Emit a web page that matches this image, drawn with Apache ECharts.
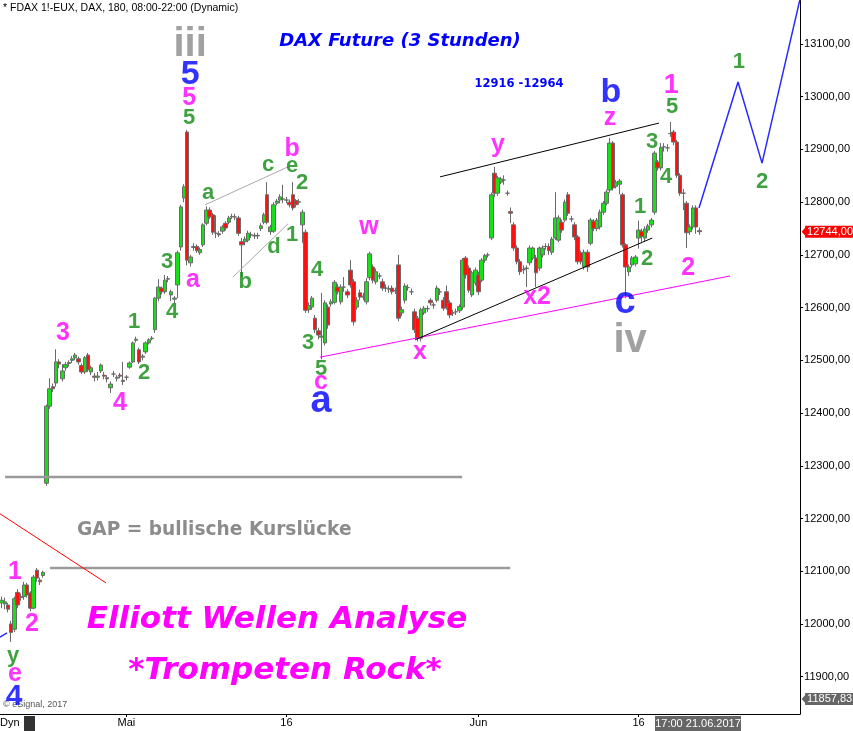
<!DOCTYPE html>
<html><head><meta charset="utf-8">
<script src="https://cdn.jsdelivr.net/npm/echarts/dist/echarts.min.js"></script>
<style>html,body{margin:0;padding:0;background:#fff}#c{width:853px;height:731px}</style>
</head><body><div id="c"></div>
<script>
// OHLC bars (3h FDAX): [open, close, low, high]
const bars = [
[12040,12045,12030,12052],[12038,12042,12028,12050],[12036,12028,12022,12040],[12000,11984,11966,12006],
[11990,12048,11985,12052],[12060,12036,12030,12066],[12050,12052,12044,12058],[12052,12074,12046,12080],
[12074,12055,12050,12078],[12059,12030,12024,12062],[12030,12089,12028,12093],[12102,12087,12080,12106],
[12083,12080,12074,12088],[12092,12098,12088,12101],
[12267,12413,12262,12416],[12413,12446,12408,12466],[12450,12446,12440,12456],[12457,12497,12450,12521],
[12497,12493,12485,12502],[12465,12480,12460,12493],[12486,12492,12480,12497],[12494,12496,12488,12500],
[12500,12503,12495,12508],[12505,12510,12500,12514],[12503,12497,12492,12507],[12490,12478,12474,12494],
[12478,12505,12474,12508],[12510,12482,12478,12514],[12478,12486,12472,12490],[12470,12468,12460,12476],
[12468,12470,12462,12478],[12480,12491,12476,12494],[12472,12470,12464,12478],[12467,12465,12458,12472],
[12448,12455,12438,12460],[12474,12474,12468,12480],[12466,12468,12460,12472],[12472,12470,12466,12476],
[12462,12460,12453,12497],
[12468,12468,12462,12472],[12487,12495,12484,12498],[12497,12533,12495,12536],[12538,12540,12534,12545],
[12520,12497,12493,12524],[12506,12508,12500,12512],[12516,12533,12512,12536],[12533,12539,12530,12542],
[12541,12542,12538,12546],[12558,12618,12552,12620],[12618,12639,12612,12654],[12637,12630,12625,12640],
[12630,12652,12626,12662],[12654,12655,12648,12660],[12624,12630,12612,12634],[12616,12618,12608,12622],
[12643,12704,12618,12708],[12715,12791,12708,12795],[12808,12829,12800,12834],[12933,12690,12680,12937],
[12685,12696,12678,12700],[12714,12716,12708,12722],[12716,12708,12704,12720],[12704,12710,12700,12714],
[12719,12757,12715,12760],[12760,12785,12756,12792],[12785,12772,12768,12790],[12776,12743,12738,12780],
[12741,12741,12732,12775],[12740,12738,12734,12745],[12745,12753,12740,12757],[12760,12751,12746,12764],
[12762,12770,12758,12774],[12772,12773,12768,12778],[12772,12772,12766,12778],[12770,12741,12736,12774],
[12725,12719,12658,12732],[12725,12730,12718,12735],[12728,12741,12724,12746],[12738,12738,12732,12744],
[12736,12737,12730,12742],[12737,12736,12730,12742],[12750,12755,12745,12760],[12762,12776,12758,12780],
[12814,12762,12758,12838],[12744,12753,12738,12757],[12745,12795,12742,12800],[12798,12802,12794,12806],
[12804,12810,12798,12815],[12806,12806,12798,12833],[12804,12804,12798,12810],[12800,12795,12790,12805],
[12814,12789,12784,12838],[12803,12795,12790,12806],[12800,12801,12795,12806],[12757,12781,12723,12786],
[12743,12595,12590,12748],[12596,12604,12590,12610],[12601,12618,12596,12622],[12580,12558,12552,12586],
[12556,12548,12540,12562],[12544,12546,12502,12628],[12533,12609,12528,12614],[12601,12567,12560,12606],
[12607,12611,12602,12616],[12610,12648,12606,12652],[12639,12630,12625,12645],[12611,12639,12606,12644],
[12639,12639,12630,12658],[12630,12624,12618,12635],[12671,12643,12638,12690],[12649,12573,12566,12654],
[12601,12614,12596,12620],[12628,12620,12614,12634],[12620,12622,12614,12628],[12611,12649,12606,12656],
[12657,12702,12652,12706],[12677,12652,12646,12682],[12649,12668,12644,12674],[12660,12660,12654,12666],
[12649,12637,12632,12655],[12637,12637,12630,12644],[12635,12636,12628,12642],[12637,12630,12625,12642],
[12632,12632,12626,12638],[12681,12580,12574,12700],[12590,12596,12584,12602],[12614,12641,12608,12646],
[12638,12638,12632,12644],[12630,12630,12624,12636],[12592,12558,12552,12598],[12580,12542,12536,12584],
[12542,12596,12536,12600],[12590,12599,12586,12603],[12598,12598,12592,12604],[12614,12609,12604,12618],
[12605,12605,12598,12610],[12614,12637,12610,12642],[12630,12630,12624,12636],[12614,12599,12594,12620],
[12630,12601,12596,12642],[12609,12586,12580,12614],[12590,12590,12584,12596],[12592,12592,12586,12598],
[12594,12602,12590,12606],[12601,12690,12596,12694],[12694,12662,12655,12698],[12675,12633,12628,12680],
[12624,12666,12620,12670],[12647,12671,12642,12676],[12662,12630,12624,12668],[12652,12690,12648,12694],
[12690,12699,12685,12702],[12700,12700,12695,12704],[12732,12814,12728,12818],[12855,12817,12810,12867],
[12817,12846,12812,12850],[12838,12844,12834,12848],[12842,12842,12833,12851],[12817,12817,12812,12822],
[12782,12779,12760,12790],[12757,12713,12708,12762],[12713,12687,12682,12718],[12687,12668,12662,12692],
[12672,12672,12664,12680],[12674,12675,12639,12680],[12685,12713,12680,12718],[12694,12713,12690,12716],
[12694,12666,12639,12700],[12675,12713,12670,12716],[12700,12713,12695,12718],[12716,12716,12710,12722],
[12716,12708,12700,12722],[12705,12730,12700,12734],[12732,12770,12728,12819],[12728,12770,12724,12775],
[12762,12747,12742,12767],[12766,12800,12762,12805],[12814,12779,12774,12819],[12768,12768,12762,12774],
[12757,12734,12728,12762],[12734,12687,12682,12738],[12704,12687,12682,12708],[12677,12705,12672,12710],
[12705,12677,12668,12710],[12722,12766,12718,12770],[12764,12750,12745,12768],[12750,12766,12745,12770],
[12753,12781,12748,12786],[12781,12798,12776,12802],[12798,12819,12794,12824],[12823,12912,12818,12922],
[12912,12827,12822,12916],[12830,12838,12826,12842],[12834,12840,12815,12844],[12814,12719,12714,12818],
[12719,12677,12618,12722],[12668,12677,12660,12682],[12681,12694,12676,12698],[12683,12696,12678,12700],
[12732,12747,12712,12765],[12745,12735,12725,12750],[12732,12749,12725,12754],[12747,12755,12742,12759],
[12757,12766,12752,12770],[12781,12893,12776,12897],[12876,12865,12860,12880],[12865,12904,12860,12912],
[12905,12905,12896,12912],[12903,12903,12896,12910],[12930,12930,12924,12952],[12933,12914,12908,12937],
[12914,12851,12846,12918],[12851,12817,12812,12855],[12817,12817,12785,12825],[12798,12742,12713,12802],
[12744,12753,12738,12758],[12753,12789,12748,12794],[12789,12753,12740,12794],[12746,12744,12738,12752]
];
const slotCount = 250;               // bar slots on the time axis (incl. empty future)
const tickBars = [39, 89, 149, 199]; // bar index of each date tick
const tickNames = ['Mai', '16', 'Jun', '16'];
const lastPrice = 12744;
const lowMarker = 11857.83;

// drawn lines: [barIndex, price]
const projection   = [[217.9,12789],[230.1,13028],[237.6,12874],[249.5,13186]];
const oldProjection= [[-0.5,11975],[1.7,11983]];
const redLine      = [[-0.5,12209],[32.6,12078]];
const magentaLine  = [[99.5,12506],[227.6,12660]];
const blackUpper   = [[137,12848],[205.4,12950]];
const blackLower   = [[129.2,12539],[203.3,12732]];
const greyUpper    = [[63.6,12795],[89.5,12867]];
const greyLower    = [[72.3,12658],[89.5,12759]];
const gapLine      = [[1.1,12279],[143.9,12279]];
const preGapLine   = [[15.1,12106],[158.9,12106]];

// wave labels: [barIndex, price, text, kind]
const waveLabels = [
[58.9,13098,'iii','grey'],[58.9,13041,'5','blueM'],[58.6,12998,'5','mag'],[58.6,12960,'5','green'],
[51.7,12687,'3','green'],[53.25,12592,'4','green'],[59.8,12652,'a','mag'],[64.5,12818,'a','green'],
[83.25,12871,'c','green'],[90.75,12869,'e','green'],[90.75,12901,'b','mag'],[93.9,12836,'2','green'],
[90.75,12738,'1','green'],[85.1,12715,'d','green'],[76.1,12649,'b','green'],[41.4,12573,'1','green'],
[44.5,12476,'2','green'],[19.2,12552,'3','mag'],[37,12419,'4','mag'],[98.6,12671,'4','green'],
[95.75,12533,'3','green'],[99.8,12484,'5','green'],[99.8,12458,'c','mag'],[99.8,12421,'a','blueL'],
[114.8,12752,'w','mag'],[130.75,12515,'x','mag'],[155.1,12908,'y','mag'],[167.3,12619,'x2','mag'],
[190.1,12959,'z','mag'],[190.4,13007,'b','blueM'],[209.2,13022,'1','magL'],[209.5,12980,'5','green'],
[203.25,12914,'3','green'],[207.6,12848,'4','green'],[199.5,12791,'1','green'],[201.7,12692,'2','green'],
[194.8,12609,'c','blueL'],[196.4,12537,'iv','grey'],[214.5,12675,'2','mag'],[230.4,13066,'1','green'],
[237.6,12838,'2','green'],[4.2,12099,'1','mag'],[9.5,12000,'2','mag'],[3.6,11940,'y','green'],
[4.2,11905,'e','mag'],[3.9,11862,'4','blueS']
];
const labelKinds = {
  grey:  {color:'#8a8a8a', fontSize:40},
  blueM: {color:'#0000ff', fontSize:34},
  blueL: {color:'#0000ff', fontSize:38},
  blueS: {color:'#0000ff', fontSize:30},
  mag:   {color:'#ff00ff', fontSize:25},
  magL:  {color:'#ff00ff', fontSize:27},
  green: {color:'#108a10', fontSize:22}
};

const cats = [];
for (let i = 0; i < slotCount; i++) cats.push(String(i));
const tickMap = {};
tickBars.forEach((b, k) => tickMap[b] = tickNames[k]);

function lineSeries(data, color, width, type) {
  return {type:'line', xAxisIndex:1, yAxisIndex:0, data:data, symbol:'none', silent:true,
    lineStyle:{color:color, width:width, type:type||'solid'}, z:5, animation:false};
}

const FONT = '"Liberation Sans", Arial, sans-serif';
const WIDE = '"DejaVu Sans", Verdana, sans-serif';
const chart = echarts.init(document.getElementById('c'), null, {renderer:'canvas'});
chart.setOption({
  animation:false,
  backgroundColor:'#fff',
  grid:{left:0, right:52, top:0, bottom:17, containLabel:false},
  xAxis:[{
    type:'category', data:cats, boundaryGap:true,
    axisLine:{onZero:false, lineStyle:{color:'#000', width:1}},
    axisTick:{show:true, length:3, alignWithLabel:true, interval:(i)=>tickMap[i]!==undefined, lineStyle:{color:'#000'}},
    axisLabel:{interval:(i)=>tickMap[i]!==undefined, formatter:(v,i)=>tickMap[i]||'', color:'#000', fontSize:11, fontFamily:FONT, margin:3},
    splitLine:{show:false}
  },{
    type:'value', min:-0.5, max:slotCount-0.5, show:false,
    axisLine:{onZero:false}
  }],
  yAxis:[{
    type:'value', position:'right', min:11829.3, max:13183.4, minInterval:100, maxInterval:100,
    axisLine:{show:true, onZero:false, lineStyle:{color:'#000'}},
    axisTick:{show:true, length:3, lineStyle:{color:'#000'}},
    axisLabel:{color:'#000', fontSize:11, fontFamily:FONT, margin:4, showMinLabel:false, showMaxLabel:false,
      formatter:(v)=>v.toFixed(2).replace('.',',')},
    splitLine:{show:false}
  }],
  series:[
    lineSeries(gapLine, '#9a9a9a', 2.5),
    lineSeries(preGapLine, '#9a9a9a', 2.5),
    {
      type:'candlestick', xAxisIndex:0, yAxisIndex:0, data:bars, barWidth:4, z:3,
      itemStyle:{color:'#18e018', color0:'#ff1010', borderColor:'#6a6a6a', borderColor0:'#6a6a6a', borderWidth:1}
    },
    {
      type:'line', xAxisIndex:1, yAxisIndex:0, data:[], silent:true, z:6,
      markLine:{
        silent:true, symbol:['none','none'], animation:false,
        lineStyle:{color:'rgba(0,0,0,0)', width:0},
        data:[
          {yAxis:lastPrice, label:{show:true, position:'end', distance:5, formatter:'12744,00',
            backgroundColor:'#ff0000', color:'#fff', fontSize:11, fontFamily:FONT, padding:[1,2,0,2]}},
          {yAxis:lowMarker, label:{show:true, position:'end', distance:5, formatter:'11857,83',
            backgroundColor:'#666', color:'#fff', fontSize:11, fontFamily:FONT, padding:[1,2,0,2]}}
        ]
      },
      markPoint:{
        silent:true, animation:false, symbol:'triangle', symbolSize:[11,5], symbolRotate:90, symbolOffset:[4,0],
        label:{show:false},
        data:[
          {coord:[slotCount-0.5, lastPrice], itemStyle:{color:'#ff0000'}},
          {coord:[slotCount-0.5, lowMarker], itemStyle:{color:'#666'}}
        ]
      }
    },
    lineSeries(redLine, '#ff0000', 1),
    lineSeries(magentaLine, '#ff00ff', 1),
    lineSeries(blackUpper, '#000', 1),
    lineSeries(blackLower, '#000', 1),
    lineSeries(greyUpper, '#aaa', 1),
    lineSeries(greyLower, '#aaa', 1),
    lineSeries(projection, '#2a2aff', 1.5),
    lineSeries(oldProjection, '#2a2aff', 1.5),
    {
      type:'scatter', xAxisIndex:1, yAxisIndex:0, symbolSize:1, silent:true, z:10,
      itemStyle:{color:'rgba(0,0,0,0)'},
      data: waveLabels.map(a => ({
        value:[a[0], a[1]],
        label:{show:true, position:'inside', formatter:a[2], fontWeight:'bold', fontFamily:FONT,
          color:labelKinds[a[3]].color, fontSize:labelKinds[a[3]].fontSize}
      }))
    }
  ],
  graphic:[
    {type:'text', left:3, top:3, style:{text:'* FDAX 1!-EUX, DAX, 180, 08:00-22:00 (Dynamic)', font:'10.5px '+FONT, fill:'#000'}},
    {type:'text', x:400, y:41, style:{text:'DAX Future (3 Stunden)', font:'italic bold 18px '+WIDE, fill:'#0000ff', textAlign:'center', textVerticalAlign:'middle'}},
    {type:'text', x:519, y:84, style:{text:'12916 -12964', font:'bold 11.5px '+WIDE, fill:'#0000ff', textAlign:'center', textVerticalAlign:'middle'}},
    {type:'text', x:77, y:530, style:{text:'GAP = bullische Kurslücke', font:'bold 18.6px '+WIDE, fill:'#8c8c8c', textAlign:'left', textVerticalAlign:'middle'}},
    {type:'text', x:277, y:620, style:{text:'Elliott Wellen Analyse', font:'italic bold 31px '+WIDE, fill:'#ff00ff', textAlign:'center', textVerticalAlign:'middle'}},
    {type:'text', x:285, y:671, style:{text:'*Trompeten Rock*', font:'italic bold 31px '+WIDE, fill:'#ff00ff', textAlign:'center', textVerticalAlign:'middle'}},
    {type:'text', x:3, y:705, style:{text:'© eSignal, 2017', font:'9px '+FONT, fill:'#555', textAlign:'left', textVerticalAlign:'middle'}},
    {type:'text', x:0, y:723, style:{text:'Dyn', font:'11px '+FONT, fill:'#000', textAlign:'left', textVerticalAlign:'middle'}},
    {type:'rect', shape:{x:24, y:716, width:11, height:15}, style:{fill:'#333'}},
    {type:'rect', shape:{x:655, y:716, width:86, height:15}, style:{fill:'#666'}},
    {type:'text', x:698, y:724, style:{text:'17:00 21.06.2017', font:'11px '+FONT, fill:'#fff', textAlign:'center', textVerticalAlign:'middle'}}
  ]
});
</script></body></html>
